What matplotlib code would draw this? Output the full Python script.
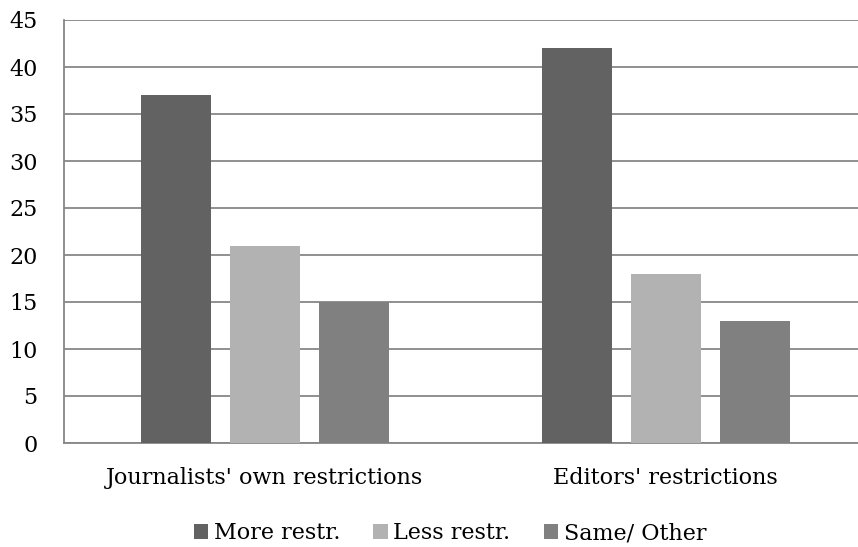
import numpy as np
import matplotlib
matplotlib.use("Agg")
import matplotlib.pyplot as plt
from matplotlib.patches import Patch

# Survey counts per restriction source
categories = ["Journalists' own restrictions", "Editors' restrictions"]
series_names = ["More restr.", "Less restr.", "Same/ Other"]
more_restr = [37, 42]
less_restr = [21, 18]
same_other = [15, 13]
yticks = [0, 5, 10, 15, 20, 25, 30, 35, 40, 45]

colors = ["#626262", "#b2b2b2", "#808080"]
grid_color = "#878787"

plt.rcParams["font.family"] = ["DejaVu Serif"]

fig = plt.figure(figsize=(8.58, 5.47), dpi=100)
W, H = 858, 547
ax = fig.add_axes([64 / W, 1 - 443 / H, (858 - 64) / W, (443 - 20) / H])

x = np.arange(len(categories))
bar_w = 70 / 401
step = 89 / 401
for i, (vals, name) in enumerate(zip([more_restr, less_restr, same_other], series_names)):
    ax.bar(x + (i - 1) * step, vals, width=bar_w, color=colors[i], label=name, zorder=3)

ax.set_xlim(-0.5, 1.5 - 8 / 401)
ax.set_ylim(0, 45)
ax.set_yticks(yticks)
ax.yaxis.grid(True, color=grid_color, linewidth=1.3, zorder=0)
ax.set_xticks(x)
ax.set_xticklabels(categories)
ax.tick_params(axis="both", length=0, labelsize=16, colors="black")
ax.tick_params(axis="x", pad=17.5)
ax.tick_params(axis="y", pad=19)

for side in ["top", "right"]:
    ax.spines[side].set_visible(False)
for side in ["left", "bottom"]:
    ax.spines[side].set_color(grid_color)
    ax.spines[side].set_linewidth(1.3)

handles = [Patch(facecolor=c, label=n) for c, n in zip(colors, series_names)]
fig.legend(handles=handles, loc="center", bbox_to_anchor=(450 / W, 1 - 533 / H),
           ncol=3, frameon=False, fontsize=16, handlelength=0.65, handleheight=0.65,
           handletextpad=0.25, columnspacing=1.5)

fig.savefig("out.png", dpi=100)
